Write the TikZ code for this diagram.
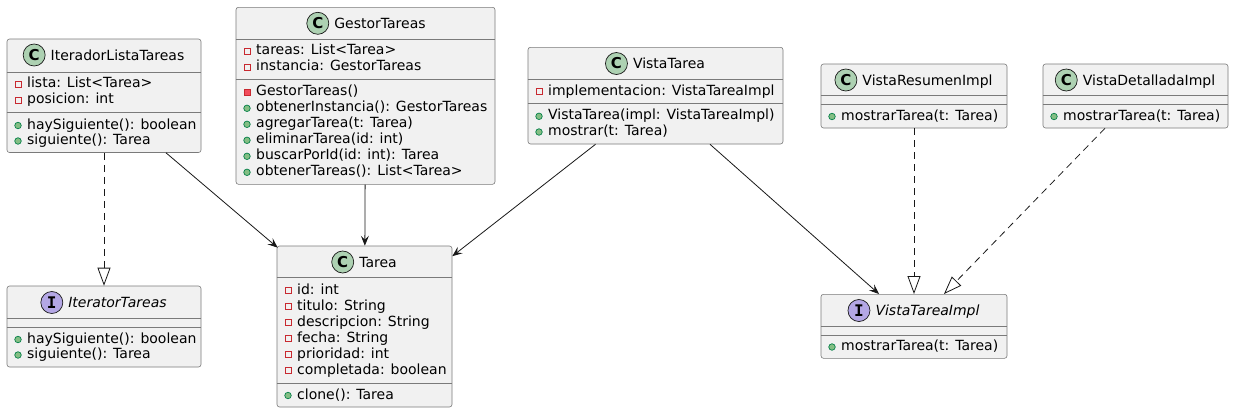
\documentclass[tikz,border=0pt]{standalone}
\usepackage{fontspec}
\setmainfont{DejaVu Sans}
\newfontfamily\iconfont{DejaVu Sans Mono}
\usetikzlibrary{positioning,fit,arrows.meta}
\definecolor{umlback}{HTML}{F1F1F1}
\definecolor{umlline}{HTML}{181818}
\definecolor{boxline}{HTML}{7A7A7A}
\definecolor{classgreen}{HTML}{ADD1B2}
\definecolor{ifacepurple}{HTML}{B4A7E5}
\definecolor{privred}{HTML}{C82930}
\definecolor{privpink}{HTML}{F24D5C}
\definecolor{pubgreen}{HTML}{038048}
\definecolor{publight}{HTML}{84BE84}

\tikzset{
  umlbox/.style={draw=boxline,fill=umlback,line width=0.6pt,rounded corners=2.5pt,inner sep=0pt},
  sepline/.style={draw=boxline,line width=0.6pt},
  classicon/.style={circle,draw=umlline,fill=classgreen,line width=0.7pt,minimum size=22pt,inner sep=0pt,
    font=\fontsize{15}{15}\selectfont\bfseries},
  ifaceicon/.style={classicon,fill=ifacepurple,font=\iconfont\fontsize{16}{16}\selectfont\bfseries},
  classname/.style={inner sep=0pt,text height=10pt,text depth=0pt,font=\fontsize{14}{16}\selectfont},
  ifacename/.style={classname,font=\fontsize{14}{16}\selectfont\itshape},
  membertext/.style={inner sep=0pt,anchor=west,text height=10pt,text depth=3pt,font=\fontsize{14}{16}\selectfont},
  privattr/.style={rectangle,draw=privred,line width=0.7pt,minimum size=6pt,inner sep=0pt},
  privop/.style={privattr,fill=privpink},
  pubop/.style={circle,draw=pubgreen,fill=publight,line width=0.7pt,minimum size=6.5pt,inner sep=0pt},
  assoc/.style={draw=umlline,line width=0.8pt,-{Stealth[length=10pt,width=8pt,inset=4pt]}},
  realize/.style={draw=umlline,line width=0.8pt,dash pattern=on 7pt off 5pt,
    -{Triangle[length=18pt,width=13pt,fill=white]}}
}

\newcommand\umlrow[5]{%
  \node[#2] (#1i) at (#3+11,#4) {};
  \node[membertext] (#1) at (#3+20,#4) {#5};
}

\begin{document}
\begin{tikzpicture}[x=1pt,y=-1pt]
\useasboundingbox[fill=white] (0,0) rectangle (1235,413);

\node[umlbox,fit={(7,39) (201,152.5)}] (iterLista) {};
\node[classname] (iterListaN) at (117.5,55) {IteradorListaTareas};
\node[classicon,left=5pt of iterListaN] (iterListaC) {C};
\draw[sepline] (iterLista.west |- 0,72) -- (iterLista.east |- 0,72);
\draw[sepline] (iterLista.west |- 0,112) -- (iterLista.east |- 0,112);
\umlrow{iterLista1}{privattr}{7}{84}{lista: List<Tarea>}
\umlrow{iterLista2}{privattr}{7}{100}{posicion: int}
\umlrow{iterLista3}{pubop}{7}{125.5}{haySiguiente(): boolean}
\umlrow{iterLista4}{pubop}{7}{141}{siguiente(): Tarea}

\node[umlbox,fit={(236,7.3) (495,184.3)}] (gestor) {};
\node[classname] (gestorN) at (380,23.3) {GestorTareas};
\node[classicon,left=5pt of gestorN] (gestorC) {C};
\draw[sepline] (gestor.west |- 0,39.3) -- (gestor.east |- 0,39.3);
\draw[sepline] (gestor.west |- 0,79.3) -- (gestor.east |- 0,79.3);
\umlrow{gestor1}{privattr}{236}{51.3}{tareas: List<Tarea>}
\umlrow{gestor2}{privattr}{236}{67.3}{instancia: GestorTareas}
\umlrow{gestor3}{privop}{236}{92.3}{GestorTareas()}
\umlrow{gestor4}{pubop}{236}{108.3}{obtenerInstancia(): GestorTareas}
\umlrow{gestor5}{pubop}{236}{124.3}{agregarTarea(t: Tarea)}
\umlrow{gestor6}{pubop}{236}{140.3}{eliminarTarea(id: int)}
\umlrow{gestor7}{pubop}{236}{156.3}{buscarPorId(id: int): Tarea}
\umlrow{gestor8}{pubop}{236}{172.3}{obtenerTareas(): List<Tarea>}

\node[umlbox,fit={(528,47.3) (783,144)}] (vistaTarea) {};
\node[classname] (vistaTareaN) at (669,63.5) {VistaTarea};
\node[classicon,left=5pt of vistaTareaN] (vistaTareaC) {C};
\draw[sepline] (vistaTarea.west |- 0,79.3) -- (vistaTarea.east |- 0,79.3);
\draw[sepline] (vistaTarea.west |- 0,103.3) -- (vistaTarea.east |- 0,103.3);
\umlrow{vistaTarea1}{privattr}{528}{91.5}{implementacion: VistaTareaImpl}
\umlrow{vistaTarea2}{pubop}{528}{116.3}{VistaTarea(impl: VistaTareaImpl)}
\umlrow{vistaTarea3}{pubop}{528}{132}{mostrar(t: Tarea)}

\node[umlbox,fit={(821,64) (1007,128)}] (vistaResumen) {};
\node[classname] (vistaResumenN) at (927.5,80) {VistaResumenImpl};
\node[classicon,left=5pt of vistaResumenN] (vistaResumenC) {C};
\draw[sepline] (vistaResumen.west |- 0,95) -- (vistaResumen.east |- 0,95);
\draw[sepline] (vistaResumen.west |- 0,104.5) -- (vistaResumen.east |- 0,104.5);
\umlrow{vistaResumen1}{pubop}{821}{116.5}{mostrarTarea(t: Tarea)}

\node[umlbox,fit={(1043,64) (1228,128)}] (vistaDetallada) {};
\node[classname] (vistaDetalladaN) at (1149,80) {VistaDetalladaImpl};
\node[classicon,left=5pt of vistaDetalladaN] (vistaDetalladaC) {C};
\draw[sepline] (vistaDetallada.west |- 0,95) -- (vistaDetallada.east |- 0,95);
\draw[sepline] (vistaDetallada.west |- 0,104.5) -- (vistaDetallada.east |- 0,104.5);
\umlrow{vistaDetallada1}{pubop}{1043}{116.5}{mostrarTarea(t: Tarea)}

\node[umlbox,fit={(7,286) (201,367)}] (iterTareas) {};
\node[ifacename] (iterTareasN) at (117.5,302.5) {IteratorTareas};
\node[ifaceicon,left=5pt of iterTareasN] (iterTareasI) {I};
\draw[sepline] (iterTareas.west |- 0,318) -- (iterTareas.east |- 0,318);
\draw[sepline] (iterTareas.west |- 0,327) -- (iterTareas.east |- 0,327);
\umlrow{iterTareas1}{pubop}{7}{339.5}{haySiguiente(): boolean}
\umlrow{iterTareas2}{pubop}{7}{355}{siguiente(): Tarea}

\node[umlbox,fit={(277,246) (452,407)}] (tarea) {};
\node[classname] (tareaN) at (378,262) {Tarea};
\node[classicon,left=5pt of tareaN] (tareaC) {C};
\draw[sepline] (tarea.west |- 0,277.5) -- (tarea.east |- 0,277.5);
\draw[sepline] (tarea.west |- 0,383) -- (tarea.east |- 0,383);
\umlrow{tarea1}{privattr}{277}{290.5}{id: int}
\umlrow{tarea2}{privattr}{277}{306.5}{titulo: String}
\umlrow{tarea3}{privattr}{277}{322.5}{descripcion: String}
\umlrow{tarea4}{privattr}{277}{338.5}{fecha: String}
\umlrow{tarea5}{privattr}{277}{354.5}{prioridad: int}
\umlrow{tarea6}{privattr}{277}{370.5}{completada: boolean}
\umlrow{tarea7}{pubop}{277}{395.5}{clone(): Tarea}

\node[umlbox,fit={(821,294.3) (1007,358.3)}] (vistaImpl) {};
\node[ifacename] (vistaImplN) at (927.5,310.5) {VistaTareaImpl};
\node[ifaceicon,left=5pt of vistaImplN] (vistaImplI) {I};
\draw[sepline] (vistaImpl.west |- 0,326.7) -- (vistaImpl.east |- 0,326.7);
\draw[sepline] (vistaImpl.west |- 0,335.5) -- (vistaImpl.east |- 0,335.5);
\umlrow{vistaImpl1}{pubop}{821}{347}{mostrarTarea(t: Tarea)}

\draw[realize] (iterLista) -- (iterTareas);
\draw[assoc] ([xshift=62pt]iterLista.south) -- ([xshift=1pt,yshift=-2pt]tarea.north west);
\draw[assoc] (gestor) -- (tarea);
\draw[assoc] ([xshift=-60pt]vistaTarea.south) -- ([yshift=-10.5pt]tarea.north east);
\draw[assoc] ([xshift=54.5pt]vistaTarea.south) -- ([xshift=-35pt]vistaImpl.north);
\draw[realize] (vistaResumen) -- (vistaImpl);
\draw[realize] ([xshift=-30.5pt]vistaDetallada.south) -- ([xshift=30pt]vistaImpl.north);
\end{tikzpicture}
\end{document}
